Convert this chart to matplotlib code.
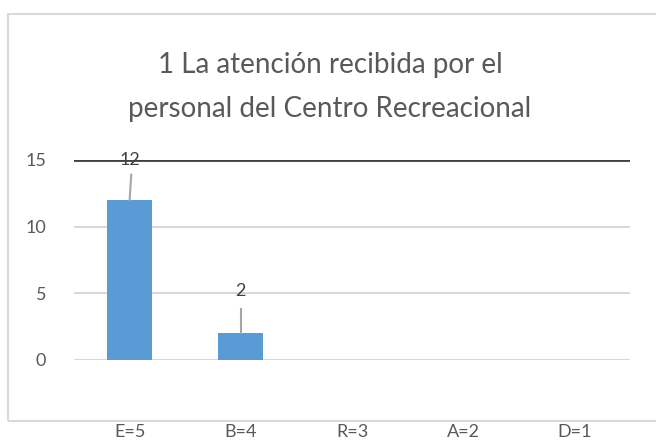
import matplotlib
matplotlib.use("Agg")
import matplotlib.pyplot as plt
from matplotlib.patches import Rectangle

categories = ["E=5", "B=4", "R=3", "A=2", "D=1"]
values = [12, 2, 0, 0, 0]
title = "1 La atención recibida por el\npersonal del Centro Recreacional"

plt.rcParams['font.family'] = ['Lato', 'DejaVu Sans']

fig = plt.figure(figsize=(6.56, 4.43), dpi=100)
ax = fig.add_axes([74/656, 1-360/443, 556/656, 200/443])

# chart frame (right edge runs off the image)
fig.patches.append(Rectangle((8/656, 1-421/443), 660/656, 407/443,
                             transform=fig.transFigure, fill=False,
                             edgecolor="#d9d9d9", linewidth=1.5))

x = list(range(len(categories)))
for xi, v in zip(x, values):
    if v > 0:
        ax.bar(xi, v, width=0.405, color="#5b9bd5", zorder=3)

ax.set_xlim(-0.5, len(categories) - 0.5)
ax.set_ylim(0, 15)
ax.set_yticks([0, 5, 10, 15])
for yv in [0, 5, 10]:
    ax.axhline(yv, color="#d9d9d9", linewidth=1.5, zorder=1)
ax.axhline(15, color="#404040", linewidth=2, zorder=2)

for s in ax.spines.values():
    s.set_visible(False)
ax.set_xticks(x)
ax.set_xticklabels(categories)
ax.tick_params(axis="both", length=0, labelsize=13, labelcolor="#595959")
ax.tick_params(axis="x", pad=46)
ax.tick_params(axis="y", pad=20)

# data labels with leader lines
for xi, v in zip(x, values):
    if v > 0:
        top = v + 3.2 if v < 10 else 15
        ax.text(xi, top, str(v), ha="center", va="center", fontsize=13,
                color="#404040", zorder=4)
        ax.plot([xi, xi + (0.015 if v >= 10 else 0)], [v, top - 1.1 if v >= 10 else top - 1.4],
                color="#a6a6a6", linewidth=1.5, zorder=4)

fig.text(0.503, 1-87/443, title, ha="center", va="center", fontsize=20,
         color="#595959", linespacing=1.85)

fig.savefig("out.png", dpi=100)
